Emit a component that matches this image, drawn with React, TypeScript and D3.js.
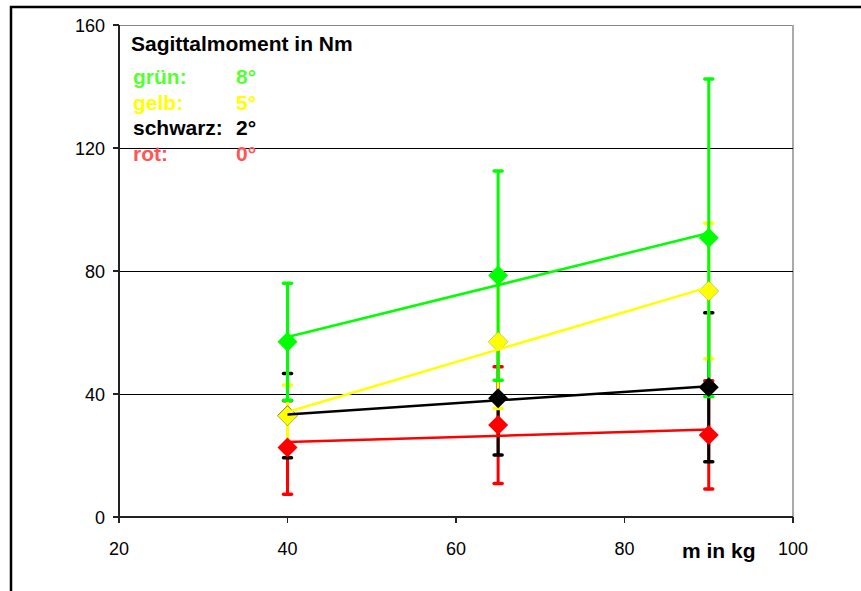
import React from 'react';
import * as d3 from 'd3';

// x values (body mass in kg)
const masses = [40, 65, 90];

// Sagittalmoment in Nm: means and +/- error per mass
const gruenMean = [57, 78.5, 90.8];
const gruenErr = [19, 34, 51.6];
const gelbMean = [32.9, 57, 73.5];
const gelbErr = [10, 21.7, 22];
const schwarzMean = [33, 38.6, 42.2];
const schwarzErr = [13.7, 18.4, 24.2];
const rotMean = [22.6, 29.9, 26.7];
const rotErr = [15.2, 19, 17.6];

const xTicks = [20, 40, 60, 80, 100];
const yTicks = [0, 40, 80, 120, 160];

const legendLabels = ['grün:', 'gelb:', 'schwarz:', 'rot:'];
const legendValues = ['8°', '5°', '2°', '0°'];

interface Series {
  name: string;
  mean: number[];
  err: number[];
  color: string;
}

// drawing order: bottom first
const series: Series[] = [
  { name: 'rot', mean: rotMean, err: rotErr, color: '#ff0000' },
  { name: 'schwarz', mean: schwarzMean, err: schwarzErr, color: '#000000' },
  { name: 'gelb', mean: gelbMean, err: gelbErr, color: '#ffff00' },
  { name: 'gruen', mean: gruenMean, err: gruenErr, color: '#00ff00' },
];

const legendColors = ['#55ff33', '#ffff00', '#000000', '#ff5555'];

const width = 861;
const height = 591;
const margin = { top: 25, right: 68, bottom: 74, left: 119 };
const font = '"Liberation Sans", Arial, sans-serif';

// least squares trend line (like Excel's linear trendline)
function linearFit(xs: number[], ys: number[]) {
  const mx = d3.mean(xs) as number;
  const my = d3.mean(ys) as number;
  let num = 0;
  let den = 0;
  xs.forEach((x, i) => {
    num += (x - mx) * (ys[i] - my);
    den += (x - mx) * (x - mx);
  });
  const slope = num / den;
  return (x: number) => my + slope * (x - mx);
}

const App: React.FC = () => {
  const innerW = width - margin.left - margin.right;
  const innerH = height - margin.top - margin.bottom;

  const x = d3.scaleLinear().domain([20, 100]).range([margin.left, margin.left + innerW]);
  const y = d3.scaleLinear().domain([0, 160]).range([margin.top + innerH, margin.top]);

  const diamond = d3.symbol().type(d3.symbolSquare).size(200)() as string;
  const line = d3.line<[number, number]>().x(d => x(d[0])).y(d => y(d[1]));

  const capHalf = 4;

  return (
    <div style={{ position: 'absolute', left: 0, top: 0 }}>
      <svg width={width} height={height} style={{ display: 'block' }}>
        <rect x={0} y={0} width={width} height={height} fill="#fff" />
        {/* outer frame */}
        <rect x={11} y={7} width={width + 20} height={height + 20} fill="none" stroke="#000" strokeWidth={2.5} />

        {/* plot area border (top/right grey) */}
        <g shapeRendering="crispEdges">
          <line x1={x(20)} x2={x(100)} y1={y(160)} y2={y(160)} stroke="#888" strokeWidth={1} />
          <line x1={x(100)} x2={x(100)} y1={y(160)} y2={y(0)} stroke="#aaa" strokeWidth={1.5} />

          {/* gridlines */}
          {yTicks.filter(t => t > 0 && t < 160).map(t => (
            <line key={t} x1={x(20)} x2={x(100)} y1={y(t)} y2={y(t)} stroke="#000" strokeWidth={1} />
          ))}

          {/* y axis */}
          <line x1={x(20)} x2={x(20)} y1={y(160)} y2={y(0)} stroke="#222" strokeWidth={1.5} />
          {yTicks.map(t => (
            <line key={t} x1={x(20) - 6} x2={x(20)} y1={y(t)} y2={y(t)} stroke="#222" strokeWidth={1.2} />
          ))}

          {/* x axis */}
          <line x1={x(20)} x2={x(100)} y1={y(0)} y2={y(0)} stroke="#222" strokeWidth={1.5} />
          {xTicks.map(t => (
            <line key={t} x1={x(t)} x2={x(t)} y1={y(0)} y2={y(0) + 6} stroke="#222" strokeWidth={1.2} />
          ))}
        </g>
        {yTicks.map(t => (
          <text key={t} x={x(20) - 14} y={y(t) + 6.5} textAnchor="end" fontFamily={font} fontSize={18} fill="#000">
            {t}
          </text>
        ))}
        {xTicks.map(t => (
          <text key={t} x={x(t)} y={y(0) + 38} textAnchor="middle" fontFamily={font} fontSize={18} fill="#000">
            {t}
          </text>
        ))}
        <text x={682} y={558} fontFamily={font} fontSize={21} fontWeight="bold" fill="#000">
          m in kg
        </text>

        {/* error bars */}
        {series.map(s => (
          <g key={s.name + '-err'}>
            {masses.map((m, i) => {
              const cx = x(m);
              const top = y(s.mean[i] + s.err[i]);
              const bot = y(s.mean[i] - s.err[i]);
              return (
                <g key={m} stroke={s.color} strokeLinecap="round">
                  <line x1={cx} x2={cx} y1={top} y2={bot} strokeWidth={3} />
                  <line x1={cx - capHalf} x2={cx + capHalf} y1={top} y2={top} strokeWidth={3.5} />
                  <line x1={cx - capHalf} x2={cx + capHalf} y1={bot} y2={bot} strokeWidth={3.5} />
                </g>
              );
            })}
          </g>
        ))}

        {/* markers */}
        {series.map(s => (
          <g key={s.name + '-pts'}>
            {masses.map((m, i) => (
              <path
                key={m}
                d={diamond}
                transform={`translate(${x(m)},${y(s.mean[i])}) rotate(45)`}
                fill={s.color}
                stroke={s.color === '#ffff00' ? '#555' : s.color}
                strokeWidth={s.color === '#ffff00' ? 0.3 : 0}
              />
            ))}
          </g>
        ))}

        {/* trend lines */}
        {series.map(s => {
          const f = linearFit(masses, s.mean);
          const pts: [number, number][] = [
            [masses[0], f(masses[0])],
            [masses[masses.length - 1], f(masses[masses.length - 1])],
          ];
          return <path key={s.name + '-trend'} d={line(pts) as string} fill="none" stroke={s.color} strokeWidth={2.5} />;
        })}

        {/* title and legend text */}
        <text x={131} y={51} fontFamily={font} fontSize={21} fontWeight="bold" fill="#000">
          Sagittalmoment in Nm
        </text>
        {legendLabels.map((lab, i) => (
          <g key={lab} fontFamily={font} fontSize={21} fontWeight="bold" fill={legendColors[i]}>
            <text x={133} y={84 + i * 25.5}>{lab}</text>
            <text x={236} y={84 + i * 25.5}>{legendValues[i]}</text>
          </g>
        ))}
      </svg>
    </div>
  );
};

export default App;
